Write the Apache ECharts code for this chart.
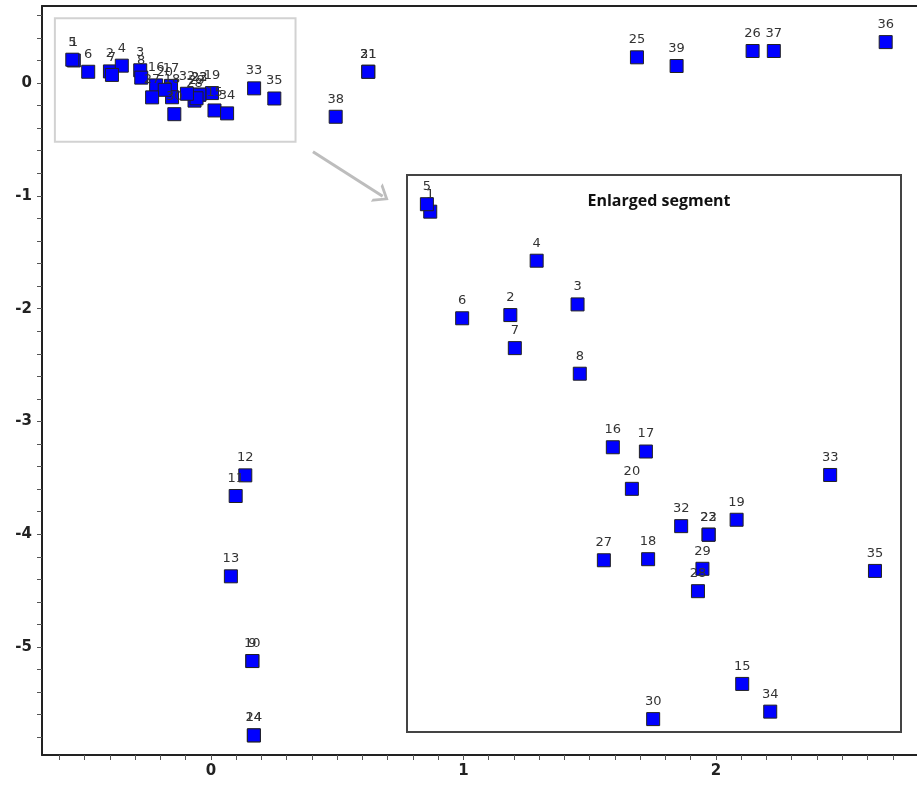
<!DOCTYPE html>
<html>
<head>
<meta charset="utf-8">
<title>Enlarged segment</title>
<script src="https://cdn.jsdelivr.net/npm/echarts@6/dist/echarts.min.js"></script>
<style>
html, body { margin: 0; padding: 0; background: #fff; }
#main { width: 917px; height: 789px; }
</style>
</head>
<body>
<div id="main"></div>
<script>
// point numbers and their coordinates
const pointIds = [1, 2, 3, 4, 5, 6, 7, 8, 9, 10,
    11, 12, 13, 14, 15, 16, 17, 18, 19, 20,
    21, 22, 23, 24, 25, 26, 27, 28, 29, 30,
    31, 32, 33, 34, 35, 36, 37, 38, 39]
const pointX = [-0.543, -0.400, -0.280, -0.353, -0.549, -0.486, -0.392, -0.276, 0.164, 0.164,
    0.098, 0.136, 0.079, 0.170, 0.014, -0.217, -0.158, -0.154, 0.004, -0.183,
    0.623, -0.046, -0.046, 0.170, 1.687, 2.145, -0.233, -0.065, -0.057, -0.145,
    0.623, -0.095, 0.171, 0.064, 0.251, 2.672, 2.229, 0.494, 1.844]
const pointY = [0.200, 0.103, 0.113, 0.154, 0.207, 0.100, 0.072, 0.048, -5.124, -5.124,
    -3.661, -3.478, -4.373, -5.783, -0.243, -0.021, -0.025, -0.126, -0.089, -0.060,
    0.100, -0.103, -0.103, -5.783, 0.228, 0.284, -0.127, -0.156, -0.135, -0.276,
    0.100, -0.095, -0.047, -0.269, -0.137, 0.363, 0.284, -0.299, 0.151]

// points repeated in the enlarged panel
const insetIds = [1, 2, 3, 4, 5, 6, 7, 8, 15, 16, 17, 18, 19, 20,
    22, 23, 27, 28, 29, 30, 32, 33, 34, 35]

// axis labels
const xLabels = [0, 1, 2]
const yLabels = [0, -1, -2, -3, -4, -5]

// segment outline and arrow (data units)
const zoomBox = [[-0.618, 0.574], [0.335, -0.520]]
const arrowLine = [[0.404, -0.610], [0.680, -1.004]]

function steps(from, to, step) {
    const out = []
    for (let v = from; v <= to + 1e-9; v += step) out.push(+v.toFixed(2))
    return out
}
const xTicks = steps(-0.6, 2.7, 0.1)
const yTicks = steps(-5.8, 0.6, 0.2)

const labelFont = 'DejaVu Sans'

const points = pointIds.map((id, i) => ({ name: String(id), value: [pointX[i], pointY[i]] }))
const insetPoints = points.filter(p => insetIds.indexOf(+p.name) >= 0)

const scatterStyle = {
    type: 'scatter',
    symbol: 'rect',
    symbolSize: 13,
    itemStyle: { color: '#0000ff', borderColor: '#222', borderWidth: 1, opacity: 1 },
    label: {
        show: true,
        position: 'top',
        distance: 4,
        formatter: '{b}',
        color: '#333',
        fontFamily: labelFont,
        fontSize: 13
    },
    emphasis: { disabled: true },
    animation: false
}

const myChart = echarts.init(document.getElementById('main'))

const option = {
    backgroundColor: '#fff',
    title: {
        text: 'Enlarged segment',
        left: 654,
        top: 188,
        textAlign: 'center',
        textStyle: { fontFamily: 'Open Sans', fontWeight: 'bold', fontSize: 16, color: '#111' }
    },
    grid: [
        { left: 42, top: 6, right: 0, bottom: 34 },
        { left: 407, top: 175, right: 16, bottom: 57, show: true, borderColor: '#444', borderWidth: 2, backgroundColor: '#fff' }
    ],
    xAxis: [
        {
            type: 'value', gridIndex: 0, min: -0.669, max: 2.796,
            splitLine: { show: false },
            axisLine: { show: true, onZero: false, lineStyle: { color: '#222', width: 2 } },
            axisTick: { show: true, length: 5, customValues: xTicks, lineStyle: { color: '#555' } },
            axisLabel: {
                customValues: xLabels, margin: 9,
                fontFamily: labelFont, fontSize: 15, fontWeight: 'bold', color: '#222'
            }
        },
        { type: 'value', gridIndex: 1, min: -0.5845, max: 0.2975, show: false },
        {
            // top frame line of the main plot
            type: 'value', gridIndex: 0, position: 'top', min: -0.669, max: 2.796,
            splitLine: { show: false },
            axisLine: { show: true, onZero: false, lineStyle: { color: '#222', width: 2 } },
            axisTick: { show: false },
            axisLabel: { show: false }
        }
    ],
    yAxis: [
        {
            type: 'value', gridIndex: 0, min: -5.957, max: 0.683,
            splitLine: { show: false },
            axisLine: { show: true, onZero: false, lineStyle: { color: '#222', width: 2 } },
            axisTick: { show: true, length: 5, customValues: yTicks, lineStyle: { color: '#555' } },
            axisLabel: {
                customValues: yLabels, margin: 10,
                fontFamily: labelFont, fontSize: 15, fontWeight: 'bold', color: '#222'
            }
        },
        { type: 'value', gridIndex: 1, min: -0.2881, max: 0.2344, show: false }
    ],
    series: [
        Object.assign({}, scatterStyle, {
            xAxisIndex: 0,
            yAxisIndex: 0,
            data: points,
            markArea: {
                silent: true,
                itemStyle: { color: 'rgba(0,0,0,0)', borderColor: '#d2d2d2', borderWidth: 2 },
                label: { show: false },
                data: [[{ coord: zoomBox[0] }, { coord: zoomBox[1] }]]
            },
            markLine: {
                silent: true,
                animation: false,
                symbol: ['none', 'path://M0,10 L5,0 L10,10 L8.4,10 L5,3.2 L1.6,10 Z'],
                symbolSize: [22, 14],
                lineStyle: { color: '#bdbdbd', width: 3, type: 'solid' },
                label: { show: false },
                data: [[{ coord: arrowLine[0] }, { coord: arrowLine[1] }]]
            }
        }),
        Object.assign({}, scatterStyle, {
            xAxisIndex: 1,
            yAxisIndex: 1,
            z: 5,
            data: insetPoints
        })
    ]
}

myChart.setOption(option)
</script>
</body>
</html>
